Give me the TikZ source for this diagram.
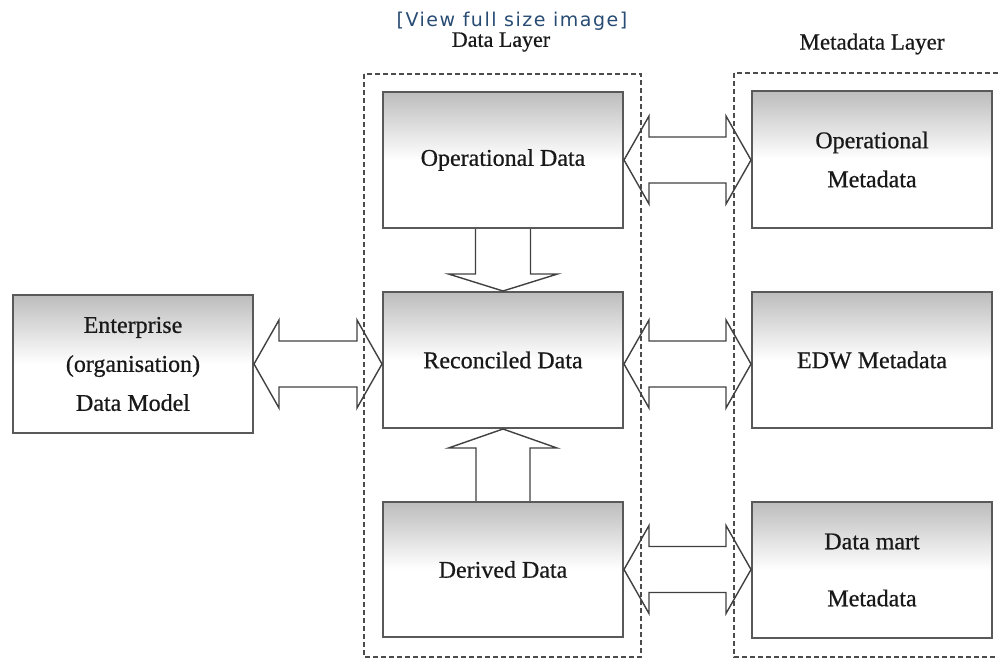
\documentclass[tikz,border=0pt]{standalone}
\usepackage{fontspec}
\setmainfont{Liberation Serif}
\newfontfamily\boxfont[FakeBold=0.6]{Liberation Serif}
\newfontfamily\viewfont[LetterSpace=8]{DejaVu Sans}
\usetikzlibrary{calc}
\pgfdeclareverticalshading{boxshade}{100bp}{color(0bp)=(white); color(25bp)=(white); color(50bp)=(white); color(75bp)=(black!26); color(100bp)=(black!26)}
\newcommand{\hdbl}[2]{\draw[blk] let \p1=(#1), \p2=(#2), \n1={\x2-\x1-50pt} in
  (\p1) -- ++(25,-44) -- ++(0,21) -- ++(\n1,0) -- ++(0,-21) -- (\x2,\y1)
  -- ++(-25,44) -- ++(0,-21) -- ++(-\n1,0) -- ++(0,21) -- cycle;}
\begin{document}
\begin{tikzpicture}[x=1pt,y=-1pt,
  box/.style={draw=black!65, line width=2pt, shading=boxshade,
    minimum width=240pt, minimum height=136pt, inner sep=0pt, align=center,
    font=\boxfont\fontsize{24}{39}\selectfont, text=black!90},
  frame/.style={draw=black!70, dash pattern=on 5pt off 3pt, line width=1.2pt},
  blk/.style={draw=black!75, line width=1.4pt, line join=miter},
  layer/.style={font=\boxfont\fontsize{23}{27}\selectfont, text=black!90}]
\useasboundingbox (0,0) rectangle (998,662);
\clip (0,0) rectangle (998,662);

% layer frames
\draw[frame] (364,74) rectangle (641,657);
\draw[frame] (734,73) rectangle (1010,657);

% titles
\node[font=\viewfont\fontsize{19}{22}\selectfont, text={rgb,255:red,40;green,75;blue,115}] (view) at (512,21) {[View full size image]};
\node[layer, font=\boxfont\fontsize{22}{26}\selectfont] (dl) at (501,42) {Data Layer};
\node[layer] (ml) at (872,44) {Metadata Layer};

% boxes
\node[box, minimum height=138pt] (ent) at (133,364) {Enterprise\\(organisation)\\Data Model};
\node[box] (opd) at (503,160) {Operational Data};
\node[box] (rec) at (503,360) {Reconciled Data};
\node[box, minimum height=135pt] (der) at (503,569.5) {Derived Data};
\node[box, minimum height=137pt] (opm) at (872,159.5) {Operational\\Metadata};
\node[box] (edw) at (872,360) {EDW Metadata};
\node[box] (dmm) at (872,570) {Data mart\\[18pt]Metadata};

% horizontal double block arrows
\hdbl{opd.east}{opm.west}
\hdbl{ent.east}{rec.west}
\hdbl{$(rec.east)+(0,4)$}{edw.west}
\hdbl{der.east}{dmm.west}

% vertical block arrows
\draw[blk] ($(opd.south)+(-27.5,0)$) -- ($(rec.north)+(-27.5,-17)$) -- ++(-27,0)
  -- (rec.north) -- ($(rec.north)+(54.5,-17)$) -- ++(-27,0) -- ($(opd.south)+(27.5,0)$);
\draw[blk] ($(der.north)+(-27,0)$) -- ($(rec.south)+(-27,19)$) -- ++(-27.5,0)
  -- (rec.south) -- ($(rec.south)+(54,19)$) -- ++(-27,0) -- ($(der.north)+(27,0)$);
\end{tikzpicture}
\end{document}
